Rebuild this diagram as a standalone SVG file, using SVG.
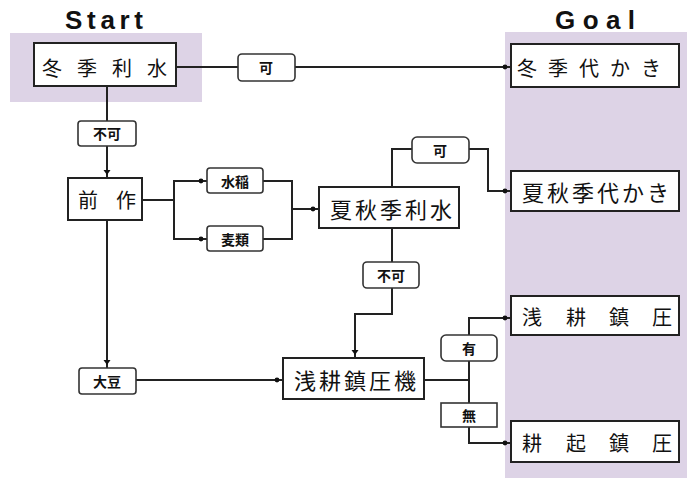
<svg xmlns="http://www.w3.org/2000/svg" width="687" height="478" viewBox="0 0 687 478">
  <style>
    .zone { fill: #DDD3E6; }
    .box { fill: #ffffff; stroke: #222222; stroke-width: 2; }
    .lbl { fill: #ffffff; stroke: #333333; stroke-width: 1.6; }
    .conn { fill: none; stroke: #222222; stroke-width: 2; }
    .nt { font-family: "Noto Sans CJK JP", "Noto Sans CJK SC", sans-serif; font-size: 20px; fill: #111111; text-anchor: middle; dominant-baseline: central; }
    .lt { font-family: "Noto Sans CJK JP", "Noto Sans CJK SC", sans-serif; font-size: 14px; font-weight: bold; fill: #111111; text-anchor: middle; dominant-baseline: central; }
    .title { font-family: "Liberation Sans", Arial, sans-serif; font-size: 26px; font-weight: bold; fill: #111111; }
  </style>
  <defs>
    <marker id="dot" markerUnits="userSpaceOnUse" viewBox="0 0 14 8" markerWidth="14" markerHeight="8" refX="12" refY="4" orient="auto">
      <circle cx="6" cy="4" r="2.4" fill="#111111"/>
    </marker>
    <marker id="tri" markerUnits="userSpaceOnUse" viewBox="0 0 12 10" markerWidth="12" markerHeight="10" refX="11" refY="5" orient="auto">
      <path d="M3,1.5 L8,5 L3,8.5 Z" fill="#111111"/>
    </marker>
  </defs>

  <!-- zones -->
  <rect class="zone" x="10" y="33" width="192" height="69"/>
  <rect class="zone" x="505" y="32" width="182" height="446"/>
  <text class="title" x="65" y="29" textLength="78" lengthAdjust="spacing">Start</text>
  <text class="title" x="555" y="29" textLength="80" lengthAdjust="spacing">Goal</text>

  <!-- connectors -->
  <g id="connectors">
    <path class="conn" d="M176,67 H511" marker-end="url(#dot)"/>
    <path class="conn" d="M107,86 V178" marker-end="url(#tri)"/>
    <path class="conn" d="M142,200 H174 V181 H207" marker-end="url(#dot)"/>
    <path class="conn" d="M174,200 V239 H207" marker-end="url(#dot)"/>
    <path class="conn" d="M263,181 H292 V209 H319" marker-end="url(#dot)"/>
    <path class="conn" d="M263,239 H292 V209"/>
    <path class="conn" d="M392,187 V149 H488 V191 H511" marker-end="url(#dot)"/>
    <path class="conn" d="M392,228 V314 H355 V358" marker-end="url(#tri)"/>
    <path class="conn" d="M107,220 V368" marker-end="url(#tri)"/>
    <path class="conn" d="M136,380 H283" marker-end="url(#dot)"/>
    <path class="conn" d="M424,380 H469 V318 H511" marker-end="url(#dot)"/>
    <path class="conn" d="M469,380 V443 H511" marker-end="url(#dot)"/>
  </g>

  <!-- edge labels -->
  <g id="edge-labels">
    <g id="lbl-ka1"><rect class="lbl" x="238" y="54" width="57" height="27" rx="4"/><text class="lt" x="266" y="67">可</text></g>
    <g id="lbl-fuka1"><rect class="lbl" x="78" y="121" width="58" height="25" rx="3"/><text class="lt" x="107" y="133">不可</text></g>
    <g id="lbl-suito"><rect class="lbl" x="207" y="168" width="56" height="25" rx="3"/><text class="lt" x="235" y="181">水稲</text></g>
    <g id="lbl-mugi"><rect class="lbl" x="207" y="226" width="56" height="25" rx="3"/><text class="lt" x="235" y="239">麦類</text></g>
    <g id="lbl-ka2"><rect class="lbl" x="412" y="137" width="57" height="26" rx="5"/><text class="lt" x="440" y="150">可</text></g>
    <g id="lbl-fuka2"><rect class="lbl" x="363" y="262" width="56" height="26" rx="4"/><text class="lt" x="391" y="275">不可</text></g>
    <g id="lbl-daizu"><rect class="lbl" x="79" y="368" width="57" height="26" rx="3"/><text class="lt" x="107" y="381">大豆</text></g>
    <g id="lbl-yu"><rect class="lbl" x="441" y="335" width="56" height="26" rx="5"/><text class="lt" x="469" y="348">有</text></g>
    <g id="lbl-mu"><rect class="lbl" x="441" y="403" width="56" height="24"/><text class="lt" x="469" y="415">無</text></g>
  </g>

  <!-- nodes -->
  <g id="node-toki-risui">
    <rect class="box" x="34" y="43" width="142" height="43"/>
    <text class="nt" x="52 87 122 157" y="67">冬季利水</text>
  </g>
  <g id="node-toki-shirokaki">
    <rect class="box" x="511" y="44" width="168" height="43"/>
    <text class="nt" x="527 558 589 620 651" y="67">冬季代かき</text>
  </g>
  <g id="node-zensaku">
    <rect class="box" x="68" y="178" width="74" height="42"/>
    <text class="nt" x="88 126" y="199">前作</text>
  </g>
  <g id="node-kashuki-risui">
    <rect class="box" x="319" y="187" width="140" height="41"/>
    <text class="nt" x="341 366 391 416 441" y="208" style="font-size:22px">夏秋季利水</text>
  </g>
  <g id="node-kashuki-shirokaki">
    <rect class="box" x="511" y="171" width="168" height="40"/>
    <text class="nt" x="533 558 583 608 633 658" y="191" style="font-size:22px">夏秋季代かき</text>
  </g>
  <g id="node-senko-kiki">
    <rect class="box" x="283" y="358" width="141" height="41"/>
    <text class="nt" x="305 330 355 380 405" y="379" style="font-size:22px">浅耕鎮圧機</text>
  </g>
  <g id="node-senko-chinatsu">
    <rect class="box" x="511" y="296" width="168" height="39"/>
    <text class="nt" x="532 576 619 662" y="316">浅耕鎮圧</text>
  </g>
  <g id="node-koki-chinatsu">
    <rect class="box" x="511" y="421" width="168" height="41"/>
    <text class="nt" x="532 576 619 662" y="442">耕起鎮圧</text>
  </g>
</svg>
